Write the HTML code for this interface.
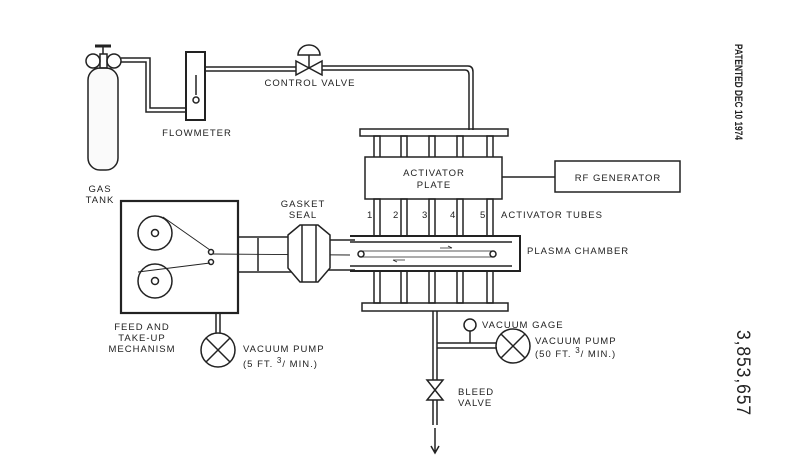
<!DOCTYPE html>
<html><head><style>
html,body{margin:0;padding:0;background:#fff;}
svg{display:block;font-family:"Liberation Sans",sans-serif;}
text{fill:#222;font-size:9.5px;letter-spacing:1px;}
</style></head><body>
<svg width="807" height="475" viewBox="0 0 807 475" xmlns="http://www.w3.org/2000/svg">
<g stroke="#222" stroke-width="1.5" fill="none">
<rect x="88" y="68" width="30" height="102" rx="12" fill="#fafafa"/>
<circle cx="93" cy="61" r="7"/><circle cx="114" cy="61" r="7"/>
<rect x="100" y="54" width="7" height="14"/>
<line x1="95" y1="46" x2="111" y2="46" stroke-width="3"/><line x1="103" y1="46" x2="103" y2="54"/>
<path d="M121 58 H150 V108 H186"/><path d="M121 62 H146 V112 H186"/>
<rect x="186" y="52" width="19" height="68" stroke-width="2"/>
<line x1="196" y1="95" x2="196" y2="75"/><circle cx="196" cy="100" r="3"/>
<path d="M205 67 H296"/><path d="M205 71 H296"/>
<path d="M296 61 L322 75 L322 61 L296 75 Z" fill="#fff"/>
<line x1="309" y1="68" x2="309" y2="55"/>
<path d="M298 55 A11 10 0 0 1 320 55 Z"/>
<path d="M322 66 H468 Q473 66 473 72 V130"/><path d="M322 70 H465 Q469 70 469 75 V130"/>
<rect x="360" y="129" width="148" height="7"/>
<g>
<rect x="374" y="136" width="6" height="22"/><rect x="401" y="136" width="6" height="22"/>
<rect x="429" y="136" width="6" height="22"/><rect x="457" y="136" width="6" height="22"/>
<rect x="487" y="136" width="6" height="22"/>
</g>
<rect x="365" y="157" width="137" height="42" fill="#fff"/>
<line x1="502" y1="177" x2="555" y2="177"/>
<rect x="555" y="161" width="125" height="31"/>
<g>
<rect x="374" y="199" width="6" height="37"/><rect x="401" y="199" width="6" height="37"/>
<rect x="429" y="199" width="6" height="37"/><rect x="457" y="199" width="6" height="37"/>
<rect x="487" y="199" width="6" height="37"/>
<rect x="374" y="271" width="6" height="32"/><rect x="401" y="271" width="6" height="32"/>
<rect x="429" y="271" width="6" height="32"/><rect x="457" y="271" width="6" height="32"/>
<rect x="487" y="271" width="6" height="32"/>
</g>
<rect x="362" y="303" width="146" height="8"/>
<path d="M350 236 H520 V271 H350" stroke-width="2"/>
<path d="M350 242 H512 M350 266 H512"/>
<circle cx="361" cy="254" r="3"/><circle cx="493" cy="254" r="3"/>
<path d="M361 251 L493 251 M361 257 L493 257" stroke-width="0.8"/>
<path d="M440 248 h12 M452 248 l-4 -2" stroke-width="0.8"/>
<path d="M405 260 h-12 M393 260 l4 2" stroke-width="0.8"/>
<rect x="121" y="201" width="117" height="112" stroke-width="2.2"/>
<circle cx="155" cy="233" r="17"/><circle cx="155" cy="233" r="3.5"/>
<circle cx="155" cy="281" r="17"/><circle cx="155" cy="281" r="3.5"/>
<circle cx="211" cy="252" r="2.5"/><circle cx="211" cy="262" r="2.5"/>
<path d="M163 217 L210 250 M138 272 L210 263 M213 254 L350 255" stroke-width="0.9"/>
<path d="M238 237 H300 M238 272 H300"/>
<path d="M258 238 V271 M320 240 H355 M320 270 H355"/>
<path d="M288 235 L300 225 H318 L330 235 V268 L318 282 H300 L288 268 Z" fill="#fff"/>
<line x1="302" y1="225" x2="302" y2="282"/><line x1="316" y1="225" x2="316" y2="282"/>
<path d="M216 313 V333 M220 313 V333"/>
<circle cx="218" cy="350" r="17"/>
<path d="M206 338 L230 362 M230 338 L206 362"/>
<path d="M433 311 V380 M437 311 V380"/>
<path d="M437 343 H497 M437 348 H497"/>
<line x1="470" y1="343" x2="470" y2="331"/><circle cx="470" cy="325" r="6"/>
<circle cx="513" cy="346" r="17"/>
<path d="M501 334 L525 358 M525 334 L501 358"/>
<path d="M427 380 L443 400 L427 400 L443 380 Z" fill="#fff"/>
<path d="M433 400 V425 M437 400 V425"/>
<path d="M435 428 V452 M431 446 L435 453 L439 446"/>
</g>
<text x="100" y="192" text-anchor="middle">GAS</text>
<text x="100" y="203" text-anchor="middle">TANK</text>
<text x="197" y="136" text-anchor="middle">FLOWMETER</text>
<text x="310" y="86" text-anchor="middle">CONTROL VALVE</text>
<text x="434" y="176" text-anchor="middle">ACTIVATOR</text>
<text x="434" y="188" text-anchor="middle">PLATE</text>
<text x="618" y="181" text-anchor="middle">RF GENERATOR</text>
<text x="367" y="218">1</text><text x="393" y="218">2</text><text x="422" y="218">3</text><text x="450" y="218">4</text><text x="480" y="218">5</text>
<text x="501" y="218">ACTIVATOR TUBES</text>
<text x="527" y="254">PLASMA CHAMBER</text>
<text x="303" y="207" text-anchor="middle">GASKET</text>
<text x="303" y="218" text-anchor="middle">SEAL</text>
<text x="142" y="330" text-anchor="middle">FEED AND</text>
<text x="142" y="341" text-anchor="middle">TAKE-UP</text>
<text x="142" y="352" text-anchor="middle">MECHANISM</text>
<text x="243" y="352">VACUUM PUMP</text>
<text x="243" y="367">(5 FT. <tspan dy="-4" style="font-size:8px">3</tspan><tspan dy="4">/ MIN.)</tspan></text>
<text x="482" y="328">VACUUM GAGE</text>
<text x="535" y="344">VACUUM PUMP</text>
<text x="535" y="357">(50 FT. <tspan dy="-4" style="font-size:8px">3</tspan><tspan dy="4">/ MIN.)</tspan></text>
<text x="458" y="395">BLEED</text>
<text x="458" y="406">VALVE</text>
<text transform="translate(735,44) rotate(90)" textLength="96" lengthAdjust="spacingAndGlyphs" style="font-size:11px;font-weight:bold;letter-spacing:0">PATENTED DEC 10 1974</text>
<text transform="translate(737,330) rotate(90)" textLength="86" lengthAdjust="spacingAndGlyphs" style="font-size:19px;letter-spacing:1px">3,853,657</text>
</svg>
</body></html>
